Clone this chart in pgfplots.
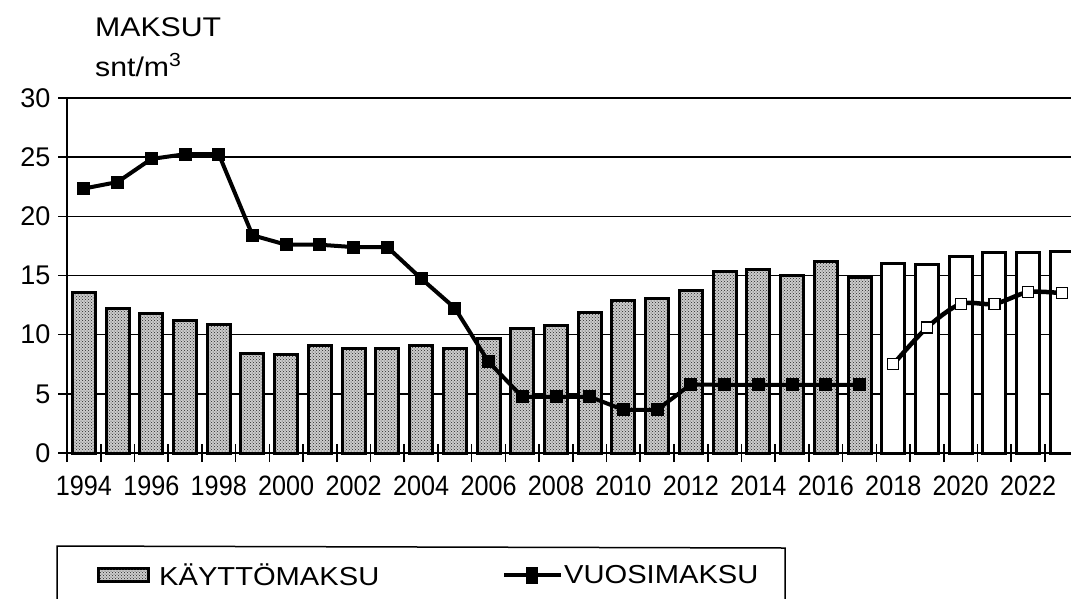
\documentclass[border=0pt]{standalone}
\usepackage{fontspec}
\usepackage{pgfplots}
\pgfplotsset{compat=1.18}
\usetikzlibrary{patterns}
\setmainfont{Liberation Sans}
\newfontfamily\wide[FakeStretch=1.12]{Liberation Sans}
\newfontfamily\narrow[FakeStretch=0.9]{Liberation Sans}
\begin{document}
\begin{tikzpicture}
\begin{axis}[
  at={(67pt,-453pt)}, anchor=south west,
  scale only axis, width=1004pt, height=355pt,
  xmin=1993.5, xmax=2023.27, ymin=0, ymax=30,
  axis x line*=bottom, axis y line*=left,
  x axis line style={line width=2.5pt},
  y axis line style={line width=1.5pt},
  ytick={0,5,10,15,20,25,30},
  yticklabels={0,5,10,15,20,25,30},
  yticklabel style={font=\fontsize{27}{30}\selectfont, xshift=-4pt},
  ymajorgrids, grid style={black, line width=1.5pt},
  xtick={1993.5,1994.5,...,2023.5}, xticklabels={},
  extra x ticks={1994,1996,1998,2000,2002,2004,2006,2008,2010,2012,2014,2016,2018,2020,2022},
  extra x tick labels={1994,1996,1998,2000,2002,2004,2006,2008,2010,2012,2014,2016,2018,2020,2022},
  extra x tick style={major tick length=0pt, tick label style={font=\narrow\fontsize{28}{30}\selectfont, yshift=-19pt}},
  tick align=center, major tick length=18pt,
  tick style={black, line width=1.6pt},
  clip=false,
  legend columns=2,
  legend style={at={(axis description cs:0.0309,-0.345)}, anchor=west, draw=none, fill=none,
    inner sep=0pt, column sep=0pt, nodes={inner sep=0pt}, font=\wide\fontsize{26}{30}\selectfont},
]
\addplot[ybar, bar width=23pt, bar shift=0pt, draw=black, line width=3pt,
  preaction={fill=gray!40}, pattern=crosshatch dots, pattern color=black!85,
  legend image code/.code={\draw[line width=1pt, preaction={fill=gray!40}, pattern=crosshatch dots, pattern color=black!85] (0pt,-6.5pt) rectangle (50pt,6.5pt); \path (59pt,0pt);}]
coordinates {
(1994,13.6) (1995,12.2) (1996,11.75) (1997,11.2) (1998,10.9) (1999,8.4)
(2000,8.35) (2001,9.1) (2002,8.85) (2003,8.85) (2004,9.05) (2005,8.8)
(2006,9.7) (2007,10.5) (2008,10.8) (2009,11.9) (2010,12.9) (2011,13.05)
(2012,13.7) (2013,15.3) (2014,15.55) (2015,15.0) (2016,16.15) (2017,14.85)
};
\addlegendentry{\makebox[343pt][l]{KÄYTTÖMAKSU}}
\addplot[ybar, bar width=23pt, bar shift=0pt, draw=black, line width=3pt, fill=white, forget plot]
coordinates {
(2018,16.0) (2019,15.95) (2020,16.6) (2021,16.95) (2022,16.95) (2023,17.0)
};
\addplot[black, line width=4pt, mark=square*, mark size=6pt, mark options={solid, line width=1pt},
  legend image code/.code={\draw[line width=4pt] (0pt,0pt) -- (57pt,0pt); \fill (24pt,-6.5pt) rectangle (32pt,6.5pt); \path (58pt,0pt);}]
coordinates {
(1994,22.35) (1995,22.9) (1996,24.85) (1997,25.25) (1998,25.25) (1999,18.4)
(2000,17.6) (2001,17.6) (2002,17.4) (2003,17.4) (2004,14.75) (2005,12.25)
(2006,7.7) (2007,4.75) (2008,4.75) (2009,4.75) (2010,3.65) (2011,3.65)
(2012,5.8) (2013,5.75) (2014,5.75) (2015,5.75) (2016,5.75) (2017,5.75)
};
\addlegendentry{VUOSIMAKSU}
\addplot[only marks, mark=square*, mark size=5.5pt, mark options={draw=black, fill=white, line width=1.3pt}, forget plot]
coordinates {
(2018,7.5) (2019,10.6) (2020,12.6) (2021,12.6) (2022,13.6) (2023,13.5)
};
\addplot[draw=black, line width=4.5pt, smooth, tension=0.5, mark=none, forget plot]
coordinates {
(2018,7.5) (2019,10.6) (2020,12.6) (2021,12.6) (2022,13.6) (2023,13.5)
};
\end{axis}
\node[anchor=base west, inner sep=0pt, font=\wide\fontsize{27}{30}\selectfont] at (95pt,-36pt) {MAKSUT};
\node[anchor=base west, inner sep=0pt, font=\wide\fontsize{27}{30}\selectfont] at (95pt,-76pt) {snt/m\textsuperscript{3}};
\draw[line width=1.5pt] (57pt,-640pt) -- (57pt,-546pt) -- (785pt,-548pt) -- (785pt,-640pt);
\pgfresetboundingbox
\useasboundingbox (0pt,0pt) rectangle (1071pt,-598pt);
\end{tikzpicture}
\end{document}
